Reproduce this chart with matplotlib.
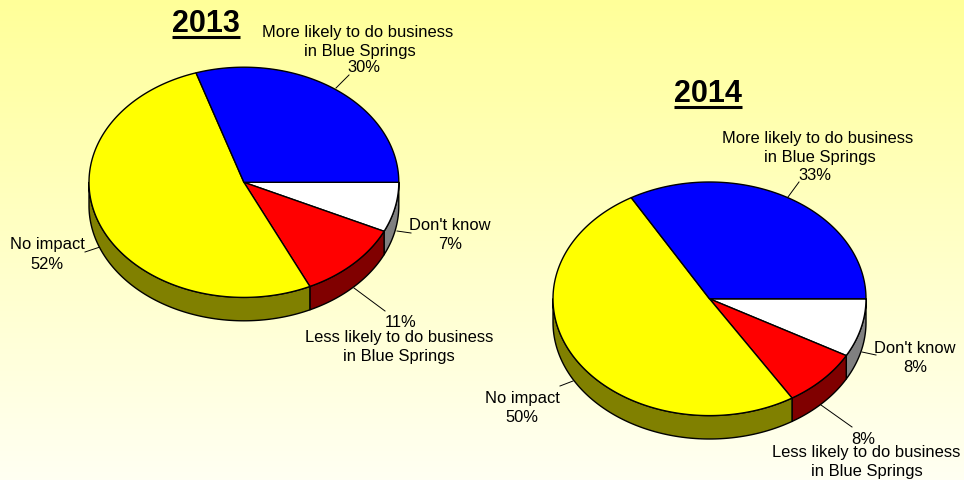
import numpy as np
import matplotlib
matplotlib.use("Agg")
import matplotlib.pyplot as plt

plt.rcParams["font.family"] = ["Liberation Sans", "DejaVu Sans"]

# Survey shares, listed clockwise from the three o'clock position
categories = ["Don't know", "Less likely", "No impact", "More likely"]
values_2013 = [7, 11, 52, 30]
values_2014 = [8, 8, 50, 33]
top_colors = ["#FFFFFF", "#FF0000", "#FFFF00", "#0000FF"]
side_colors = ["#808080", "#800000", "#808000", "#000080"]

W, H = 964, 481
fig = plt.figure(figsize=(W / 100, H / 100), dpi=100)
ax = fig.add_axes([0, 0, 1, 1])
ax.set_xlim(0, W)
ax.set_ylim(H, 0)
ax.axis("off")

# Pale yellow vertical wash behind everything
wash = np.ones((256, 1, 3))
wash[:, :, 2] = np.linspace(0.60, 0.95, 256)[:, None]
ax.imshow(wash, extent=(0, W, H, 0), aspect="auto", zorder=0)


def draw_pie(values, cx, cy, rx, ry, depth):
    shares = np.asarray(values, dtype=float)
    edges = np.concatenate([[0], np.cumsum(shares) / shares.sum() * 2 * np.pi])

    # Rim of the disc: only the part facing the viewer is visible
    for i in range(len(values)):
        lo, hi = edges[i], min(edges[i + 1], np.pi)
        if lo >= np.pi:
            continue
        t = np.linspace(lo, hi, 120)
        x = cx + rx * np.cos(t)
        y = cy + ry * np.sin(t)
        px = np.concatenate([x, x[::-1]])
        py = np.concatenate([y, y[::-1] + depth])
        ax.fill(px, py, facecolor=side_colors[i], edgecolor="black",
                linewidth=1.0, zorder=2, joinstyle="round")

    # Top face
    for i in range(len(values)):
        t = np.linspace(edges[i], edges[i + 1], 240)
        px = np.concatenate([[cx], cx + rx * np.cos(t)])
        py = np.concatenate([[cy], cy + ry * np.sin(t)])
        ax.fill(px, py, facecolor=top_colors[i], edgecolor="black",
                linewidth=1.0, zorder=3, joinstyle="round")


def underlined_title(text, x, y, half_width):
    ax.text(x, y, text, fontsize=22, fontweight="bold", ha="center",
            va="center", color="black", zorder=5)
    ax.plot([x - half_width, x + half_width], [y + 14, y + 14],
            color="black", linewidth=2.2, solid_capstyle="butt", zorder=5)


def label(x, y, text):
    ax.text(x, y + 0.5, text, fontsize=11.9, ha="center", va="center",
            color="black", zorder=6)


def leader(x0, y0, x1, y1):
    ax.plot([x0, x1], [y0, y1], color="black", linewidth=0.7, zorder=1.5)


draw_pie(values_2013, 243.9, 183.3, 154.9, 115.1, 23.4)
draw_pie(values_2014, 709.5, 299.8, 156.5, 116.8, 23.4)

underlined_title("2013", 206, 24, 34)
underlined_title("2014", 708, 94, 34)

# 2013 labels
label(358, 32, "More likely to do business")
label(360, 51, "in Blue Springs")
label(364, 67, f"{values_2013[3]}%")
label(450, 225, "Don't know")
label(450, 244, f"{values_2013[0]}%")
label(47, 244, "No impact")
label(47, 264, f"{values_2013[2]}%")
label(401, 322, f"{values_2013[1]}%")
label(399, 337, "Less likely to do business")
label(399, 356, "in Blue Springs")
leader(336, 89, 349, 76)
leader(397, 232, 411, 234)
leader(100, 248, 85, 253)
leader(354, 289, 385, 312)

# 2014 labels
label(818, 138, "More likely to do business")
label(820, 157, "in Blue Springs")
label(815, 175, f"{values_2014[3]}%")
label(915, 348, "Don't know")
label(915, 367, f"{values_2014[0]}%")
label(522, 398, "No impact")
label(522, 417, f"{values_2014[2]}%")
label(863, 439, f"{values_2014[1]}%")
label(866, 452, "Less likely to do business")
label(867, 471, "in Blue Springs")
leader(788, 198, 799, 183)
leader(862, 353, 876, 356)
leader(573, 382, 560, 387)
leader(821, 406, 852, 428)

fig.savefig("out.png", dpi=100)
